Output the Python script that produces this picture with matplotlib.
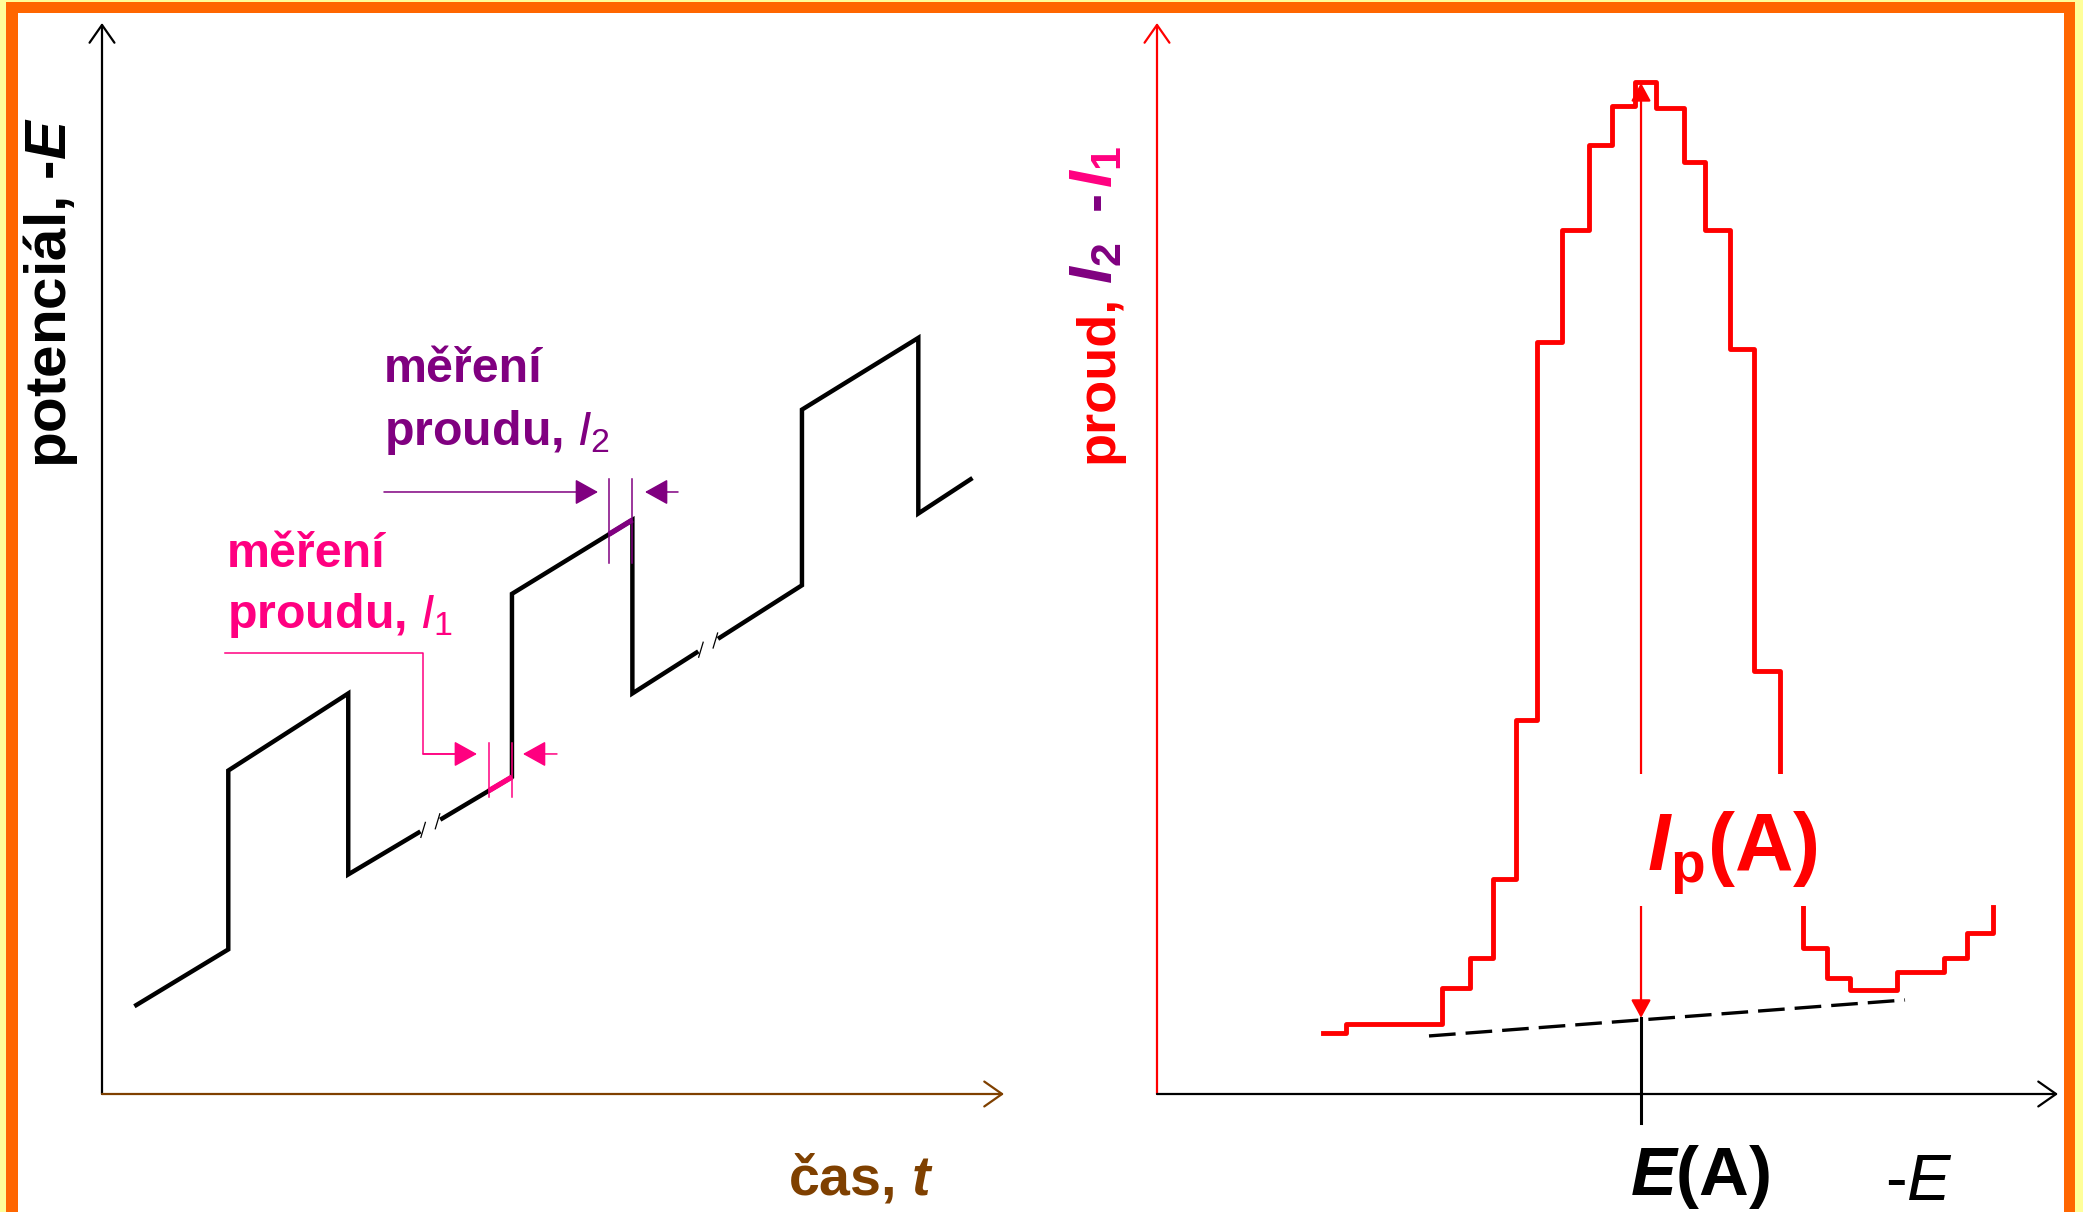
import numpy as np
import matplotlib
matplotlib.use("Agg")
import matplotlib.pyplot as plt
from matplotlib import font_manager as fm
from matplotlib.patches import Rectangle

# fonts: narrow face for the annotations if it is there
names = {f.name for f in fm.fontManager.ttflist}
HAS_NARROW = "Liberation Sans Narrow" in names
NARROW = "Liberation Sans Narrow" if HAS_NARROW else "Liberation Sans"
WIDE = "Liberation Sans"
k = 1.0 if HAS_NARROW else 0.87   # shrink when only the wide face exists

plt.rcParams["mathtext.fontset"] = "custom"
plt.rcParams["mathtext.rm"] = NARROW
plt.rcParams["mathtext.it"] = NARROW + ":italic"
plt.rcParams["mathtext.bf"] = NARROW + ":bold"
plt.rcParams["mathtext.bfit"] = NARROW + ":italic:bold"
plt.rcParams["mathtext.sf"] = NARROW

RED = "#FF0000"
PINK = "#FF0080"
PURPLE = "#800080"
BROWN = "#7F4000"

# ---- left panel: potential waveform (t, -E), arbitrary units 0..100
wave_t = [3.8, 14.0, 14.0, 27.3, 27.3, 45.45, 45.45, 58.8, 58.8, 77.6, 77.6, 90.5, 90.5, 96.3]
wave_E = [8.3, 13.5, 30.2, 37.4, 20.5, 29.6, 46.7, 53.6, 37.4, 47.5, 63.9, 70.6, 54.2, 57.4]
break_t = [36.4, 67.2]          # "//" marks on the base ramp
i1_window = [42.9, 45.45]       # sampling of I1
i2_window = [56.2, 58.8]        # sampling of I2

# ---- right panel: differential current steps (-E, I2 - I1)
step_E = [18.42, 20.98, 31.63, 34.74, 37.29, 39.84, 42.18, 44.95, 47.95, 50.50, 53.05, 55.38,
          58.49, 60.82, 63.60, 66.26, 69.14, 71.70, 74.36, 76.91, 82.13, 87.35, 89.90, 92.79]
step_I = [5.70, 6.54, 9.90, 12.70, 20.07, 34.92, 70.21, 80.67, 88.61, 92.25, 94.49, 92.06,
          87.02, 80.67, 69.56, 39.50, 23.70, 13.63, 10.83, 9.71, 11.39, 12.70, 15.03, 17.46]
base_E = [30.19, 83.02]
base_I = [5.42, 8.78]
peak_E = 53.72
peak_I = [7.1, 94.4]

W, H = 2083, 1212
fig = plt.figure(figsize=(W / 100, H / 100), dpi=100)
fig.patch.set_facecolor("#FFFF99")
fig.add_artist(Rectangle((6 / W, 0), 2069 / W, (H - 2) / H, transform=fig.transFigure,
                         facecolor="#FF6600", edgecolor="none", zorder=0))
fig.add_artist(Rectangle((18 / W, 0), 2046 / W, (H - 13) / H, transform=fig.transFigure,
                         facecolor="white", edgecolor="none", zorder=0))

ax = fig.add_axes([102 / W, 118 / H, 902 / W, 1071 / H])
ax2 = fig.add_axes([1157 / W, 118 / H, 901 / W, 1071 / H])
for a in (ax, ax2):
    a.set_xlim(0, 100)
    a.set_ylim(0, 100)
    a.axis("off")
    a.patch.set_alpha(0)


def axis_arrow(a, xy, color):
    a.annotate("", xy=xy, xytext=(0, 0), annotation_clip=False,
               arrowprops=dict(arrowstyle="->,head_length=0.4,head_width=0.28", mutation_scale=32,
                               color=color, lw=1.6, shrinkA=0, shrinkB=0))


axis_arrow(ax, (0, 100), "black")
axis_arrow(ax, (100, 0), BROWN)
axis_arrow(ax2, (0, 100), RED)
axis_arrow(ax2, (100, 0), "black")

# waveform
ax.plot(wave_t, wave_E, color="black", lw=3.2, solid_joinstyle="miter", zorder=3)
for tb in break_t:
    e = np.interp([tb - 0.7, tb + 0.7], wave_t[4:10], wave_E[4:10])
    ax.plot([tb - 0.7, tb + 0.7], e, color="white", lw=6, zorder=4)
    for dt in (-0.8, 0.8):
        ec = np.interp(tb + dt, wave_t[4:10], wave_E[4:10])
        ax.plot([tb + dt - 0.25, tb + dt + 0.25], [ec - 0.7, ec + 0.7], color="black", lw=0.9, zorder=4)

# sampling windows
for win, seg, col, y_lo, y_hi in ((i1_window, slice(4, 6), PINK, 27.7, 32.8),
                                  (i2_window, slice(6, 8), PURPLE, 49.6, 57.4)):
    e = np.interp(win, wave_t[seg], wave_E[seg])
    ax.plot(win, e, color=col, lw=3.8, solid_capstyle="butt", zorder=5)
    for tv in win:
        ax.plot([tv, tv], [y_lo, y_hi], color=col, lw=1.1, zorder=5)

head = dict(arrowstyle="-|>,head_length=0.72,head_width=0.4", mutation_scale=20, shrinkA=0, shrinkB=0)
# I1 pointer
ax.plot([13.64, 35.59, 35.59, 41.0], [41.18, 41.18, 31.75, 31.75], color=PINK, lw=1.1, zorder=5)
ax.annotate("", xy=(41.57, 31.75), xytext=(35.59, 31.75), arrowprops=dict(color=PINK, lw=1.1, **head))
ax.annotate("", xy=(46.67, 31.75), xytext=(50.44, 31.75), arrowprops=dict(color=PINK, lw=1.1, **head))
# I2 pointer
ax.annotate("", xy=(54.99, 56.21), xytext=(31.26, 56.21), arrowprops=dict(color=PURPLE, lw=1.1, **head))
ax.annotate("", xy=(60.2, 56.21), xytext=(63.86, 56.21), arrowprops=dict(color=PURPLE, lw=1.1, **head))

ann = dict(fontsize=40 * k, fontfamily=NARROW, fontweight="bold", ha="left", va="baseline")
ax.text(13.86, 49.21, "měření", color=PINK, **ann)
ax.text(13.86, 43.51, r"proudu, $\mathit{I}_1$", color=PINK, **ann)
ax.text(31.26, 66.48, "měření", color=PURPLE, **ann)
ax.text(31.26, 60.60, r"proudu, $\mathit{I}_2$", color=PURPLE, **ann)

ax.text(76.05, -9.43, r"čas, $\mathbfit{t}$", color=BROWN, fontsize=40, fontfamily=WIDE,
        fontweight="bold", ha="left", va="baseline")
ax.text(-3.99, 58.45, r"potenciál, -$\mathbfit{E}$", color="black", fontsize=42, fontfamily=WIDE,
        fontweight="bold", rotation=90, rotation_mode="anchor", ha="left", va="baseline")

# right panel
ax2.step(step_E, step_I, where="post", color=RED, lw=3.5, zorder=3)
ax2.plot(base_E, base_I, color="black", lw=2.4, dashes=(8, 3), zorder=3)
ax2.annotate("", xy=(peak_E, peak_I[1]), xytext=(peak_E, peak_I[0]),
             arrowprops=dict(arrowstyle="<|-|>,head_length=0.55,head_width=0.3", mutation_scale=20,
                             color=RED, lw=1.6, shrinkA=0, shrinkB=0), zorder=4)
ax2.plot([peak_E, peak_E], [peak_I[0], -2.7], color="black", lw=2.2, clip_on=False, zorder=4)
ax2.add_patch(Rectangle((51.7, 17.6), 25.6, 12.3, facecolor="white", edgecolor="none", zorder=5))
ax2.text(54.38, 20.82, r"$\mathbfit{I}_{\mathbf{p}}\mathbf{(A)}$", color=RED, fontsize=67 * k,
         ha="left", va="baseline", zorder=6)
ax2.text(52.5, -9.43, r"$\mathbfit{E}\mathbf{(A)}$", color="black", fontsize=57 * k,
         ha="left", va="baseline")
ax2.text(80.8, -9.9, r"-$\mathit{E}$", color="black", fontsize=47, fontfamily=NARROW,
         ha="left", va="baseline")

rot = dict(rotation=90, rotation_mode="anchor", ha="left", va="baseline", fontweight="bold")
ax2.text(-4.99, 58.92, "proud,", color=RED, fontfamily=WIDE, fontsize=39, **rot)
ax2.text(-4.99, 75.6, r"$\mathbfit{I}_\mathbf{2}$", color=PURPLE, fontsize=44, **rot)
ax2.text(-4.99, 82.5, "-", color=PURPLE, fontfamily=NARROW, fontsize=41, **rot)
ax2.text(-4.99, 84.6, r"$\mathbfit{I}_\mathbf{1}$", color=PINK, fontsize=44, **rot)

fig.savefig("out.png", dpi=100, facecolor=fig.get_facecolor())
